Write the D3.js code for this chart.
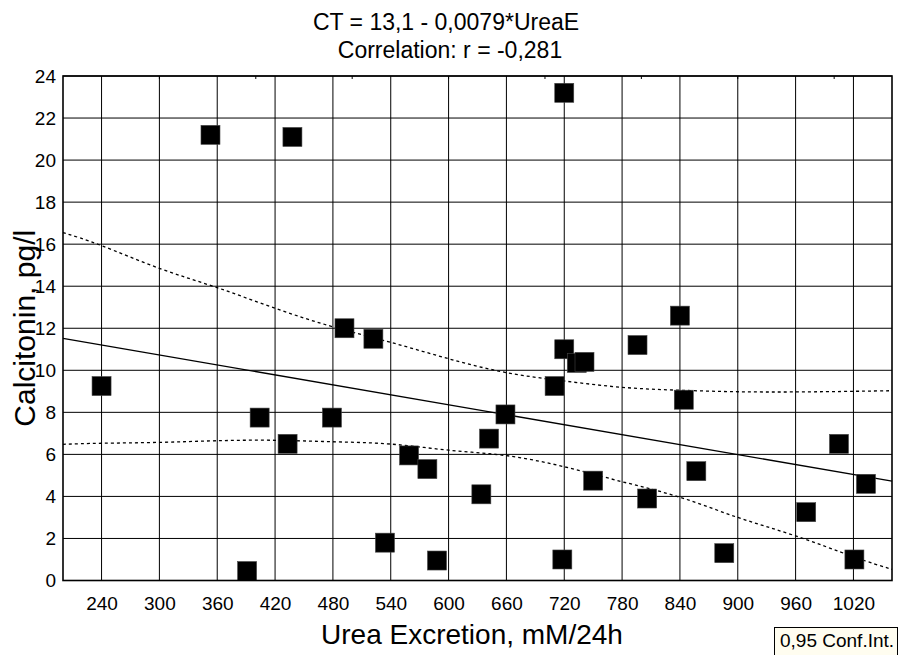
<!DOCTYPE html>
<html>
<head>
<meta charset="utf-8">
<script src="https://cdn.jsdelivr.net/npm/d3@7"></script>
<style>
  body { margin: 0; background: #fff; }
  text { font-family: Arial, "Liberation Sans", sans-serif; fill: #000; }
</style>
</head>
<body>
<svg class="scatter-svg"></svg>
<script>
// Data
const ureaExcretion = [353, 438, 492, 522, 720, 840, 720, 733, 741, 796, 710, 844, 659, 642, 1005,
  857, 1033, 750, 634, 806, 971, 718, 886, 1021, 240, 404, 479, 433, 559, 578, 534, 588, 391]
const calcitonin = [21.2, 21.1, 12.0, 11.5, 23.2, 12.6, 11.0, 10.35, 10.4, 11.2, 9.25, 8.6, 7.9, 6.75, 6.5,
  5.2, 4.6, 4.75, 4.1, 3.9, 3.25, 1.0, 1.3, 1.0, 9.25, 7.75, 7.75, 6.5, 5.95, 5.3, 1.8, 0.95, 0.45]

const xTicks = [240, 300, 360, 420, 480, 540, 600, 660, 720, 780, 840, 900, 960, 1020]
const yTicks = [0, 2, 4, 6, 8, 10, 12, 14, 16, 18, 20, 22, 24]
const topTicks = [300, 400, 500, 600, 700, 800, 900, 1000]

// regression from the title: CT = 13,1 - 0,0079*UreaE
const intercept = 13.1
const slope = -0.0079
const fitX = [200, 1060]

// 0,95 confidence band, read at the grid lines
const bandX = [200, 240, 300, 360, 420, 480, 540, 600, 660, 720, 780, 840, 900, 960, 1020, 1060]
const upperBand = [16.55, 15.93, 14.85, 13.93, 12.95, 12.07, 11.33, 10.55, 9.89, 9.49, 9.19, 9.05, 8.98, 8.97, 9.0, 9.03]
const lowerBand = [6.48, 6.53, 6.57, 6.65, 6.67, 6.6, 6.49, 6.2, 5.94, 5.41, 4.7, 3.96, 3.0, 2.12, 1.13, 0.53]

const width = 899
const height = 655
const plot = { left: 63, right: 892, top: 76, bottom: 580.5 }

const svg = d3.select('.scatter-svg')
  .attr('width', width)
  .attr('height', height)

const x = d3.scaleLinear().domain([200, 1060]).range([plot.left, plot.right])
const y = d3.scaleLinear().domain([0, 24]).range([plot.bottom, plot.top])

function drawGrid() {
  const g = svg.append('g').attr('class', 'grid')
  g.selectAll('.vline')
    .data(xTicks)
    .join('line')
    .attr('x1', d => x(d)).attr('x2', d => x(d))
    .attr('y1', plot.top).attr('y2', plot.bottom)
    .attr('stroke', '#000')
    .attr('stroke-width', 1)
  g.selectAll('.hline')
    .data(yTicks)
    .join('line')
    .attr('x1', plot.left).attr('x2', plot.right)
    .attr('y1', d => y(d)).attr('y2', d => y(d))
    .attr('stroke', '#000')
    .attr('stroke-width', 1)

  // small inward ticks on the top edge
  g.selectAll('.top-tick')
    .data(topTicks)
    .join('line')
    .attr('x1', d => x(d)).attr('x2', d => x(d))
    .attr('y1', plot.top).attr('y2', plot.top + 3)
    .attr('stroke', '#000')
}

function drawAxes() {
  const xAxis = svg.append('g')
    .attr('transform', `translate(0,${plot.bottom})`)
    .call(d3.axisBottom(x).tickValues(xTicks).tickFormat(d3.format('d')).tickSize(0).tickPadding(16))
  xAxis.select('.domain').remove()
  xAxis.selectAll('text').attr('font-size', 19)

  const yAxis = svg.append('g')
    .attr('transform', `translate(${plot.left},0)`)
    .call(d3.axisLeft(y).tickValues(yTicks).tickSize(0).tickPadding(7))
  yAxis.select('.domain').remove()
  yAxis.selectAll('text').attr('font-size', 19)

  svg.append('rect')
    .attr('x', plot.left).attr('y', plot.top)
    .attr('width', plot.right - plot.left)
    .attr('height', plot.bottom - plot.top)
    .attr('fill', 'none')
    .attr('stroke', '#000')
    .attr('stroke-width', 1.6)
}

function drawFit() {
  const line = d3.line().x(d => x(d)).y(d => y(intercept + slope * d))
  svg.append('path')
    .datum(fitX)
    .attr('d', line)
    .attr('fill', 'none')
    .attr('stroke', '#000')
    .attr('stroke-width', 1.3)

  const band = d3.line()
    .x((d, i) => x(bandX[i]))
    .y(d => y(d))
    .curve(d3.curveNatural)
  ;[upperBand, lowerBand].forEach(values => {
    svg.append('path')
      .datum(values)
      .attr('d', band)
      .attr('fill', 'none')
      .attr('stroke', '#000')
      .attr('stroke-width', 1.3)
      .attr('stroke-dasharray', '3,3')
  })
}

function drawPoints() {
  const size = 19
  svg.append('g').attr('class', 'points')
    .selectAll('rect')
    .data(ureaExcretion.map((u, i) => ({ u: u, c: calcitonin[i] })))
    .join('rect')
    .attr('x', d => x(d.u) - size / 2)
    .attr('y', d => y(d.c) - size / 2)
    .attr('width', size)
    .attr('height', size)
    .attr('fill', '#000')
    .attr('stroke', '#444')
    .attr('stroke-width', 0.6)
}

function drawLabels() {
  svg.append('text')
    .attr('x', 446).attr('y', 30)
    .attr('text-anchor', 'middle')
    .attr('font-size', 23)
    .text('CT = 13,1 - 0,0079*UreaE')
  svg.append('text')
    .attr('x', 450).attr('y', 58)
    .attr('text-anchor', 'middle')
    .attr('font-size', 23)
    .text('Correlation: r = -0,281')

  svg.append('text')
    .attr('x', 472).attr('y', 644)
    .attr('text-anchor', 'middle')
    .attr('font-size', 28)
    .text('Urea Excretion, mM/24h')

  svg.append('text')
    .attr('transform', `translate(35,${(plot.top + plot.bottom) / 2}) rotate(-90)`)
    .attr('text-anchor', 'middle')
    .attr('font-size', 30)
    .text('Calcitonin, pg/l')

  // legend box
  const lg = svg.append('g').attr('class', 'legend')
  lg.append('rect')
    .attr('x', 774.5).attr('y', 627.5)
    .attr('width', 123).attr('height', 31)
    .attr('fill', '#fffdf0')
    .attr('stroke', '#000')
  lg.append('text')
    .attr('x', 780).attr('y', 647)
    .attr('font-size', 19)
    .text('0,95 Conf.Int.')
}

drawGrid()
drawFit()
drawPoints()
drawAxes()
drawLabels()
</script>
</body>
</html>
